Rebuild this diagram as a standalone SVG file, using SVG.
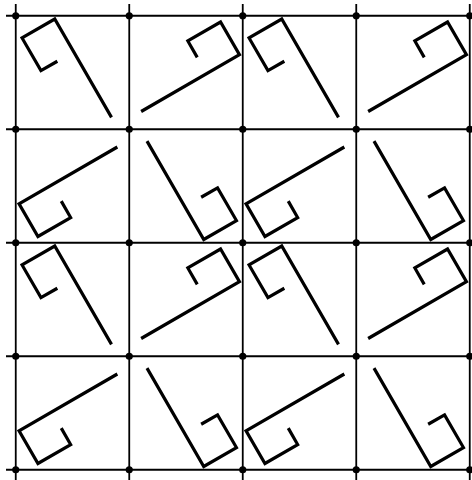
<svg xmlns="http://www.w3.org/2000/svg" xmlns:xlink="http://www.w3.org/1999/xlink" width="472" height="480" viewBox="0 0 472 480">
  <style>
    .grid { stroke: #000; stroke-width: 1.8; fill: none; }
    .dot { fill: #000; }
    .hook { stroke: #000; stroke-width: 3.2; fill: none; stroke-linejoin: miter; stroke-linecap: butt; }
  </style>
  <defs>
    <polyline id="hk" class="hook" points="-15.15,-11.25 -31.55,-1.85 -50.45,-34.55 -17.75,-53.45 39,44.85"/>
  </defs>
  <rect width="472" height="480" fill="#fff"/>
  <g id="grid-lines">
    <line class="grid" x1="6" y1="15.75" x2="472" y2="15.75"/>
    <line class="grid" x1="6" y1="129.25" x2="472" y2="129.25"/>
    <line class="grid" x1="6" y1="242.75" x2="472" y2="242.75"/>
    <line class="grid" x1="6" y1="356.25" x2="472" y2="356.25"/>
    <line class="grid" x1="6" y1="469.75" x2="472" y2="469.75"/>
    <line class="grid" x1="15.75" y1="4" x2="15.75" y2="480"/>
    <line class="grid" x1="129.25" y1="4" x2="129.25" y2="480"/>
    <line class="grid" x1="242.75" y1="4" x2="242.75" y2="480"/>
    <line class="grid" x1="356.25" y1="4" x2="356.25" y2="480"/>
    <line class="grid" x1="469.75" y1="4" x2="469.75" y2="480"/>
  </g>
  <g id="dots">
    <circle class="dot" cx="15.75" cy="15.75" r="3.6"/><circle class="dot" cx="129.25" cy="15.75" r="3.6"/><circle class="dot" cx="242.75" cy="15.75" r="3.6"/><circle class="dot" cx="356.25" cy="15.75" r="3.6"/><circle class="dot" cx="469.75" cy="15.75" r="3.6"/>
    <circle class="dot" cx="15.75" cy="129.25" r="3.6"/><circle class="dot" cx="129.25" cy="129.25" r="3.6"/><circle class="dot" cx="242.75" cy="129.25" r="3.6"/><circle class="dot" cx="356.25" cy="129.25" r="3.6"/><circle class="dot" cx="469.75" cy="129.25" r="3.6"/>
    <circle class="dot" cx="15.75" cy="242.75" r="3.6"/><circle class="dot" cx="129.25" cy="242.75" r="3.6"/><circle class="dot" cx="242.75" cy="242.75" r="3.6"/><circle class="dot" cx="356.25" cy="242.75" r="3.6"/><circle class="dot" cx="469.75" cy="242.75" r="3.6"/>
    <circle class="dot" cx="15.75" cy="356.25" r="3.6"/><circle class="dot" cx="129.25" cy="356.25" r="3.6"/><circle class="dot" cx="242.75" cy="356.25" r="3.6"/><circle class="dot" cx="356.25" cy="356.25" r="3.6"/><circle class="dot" cx="469.75" cy="356.25" r="3.6"/>
    <circle class="dot" cx="15.75" cy="469.75" r="3.6"/><circle class="dot" cx="129.25" cy="469.75" r="3.6"/><circle class="dot" cx="242.75" cy="469.75" r="3.6"/><circle class="dot" cx="356.25" cy="469.75" r="3.6"/><circle class="dot" cx="469.75" cy="469.75" r="3.6"/>
  </g>
  <g id="tile-r0c0"><use xlink:href="#hk" transform="translate(72.5,72.5)"/></g>
  <g id="tile-r0c1"><use xlink:href="#hk" transform="translate(186,72.5) rotate(90)"/></g>
  <g id="tile-r0c2"><use xlink:href="#hk" transform="translate(299.5,72.5)"/></g>
  <g id="tile-r0c3"><use xlink:href="#hk" transform="translate(413,72.5) rotate(90)"/></g>
  <g id="tile-r1c0"><use xlink:href="#hk" transform="translate(72.5,186) rotate(-90)"/></g>
  <g id="tile-r1c1"><use xlink:href="#hk" transform="translate(186,186) rotate(180)"/></g>
  <g id="tile-r1c2"><use xlink:href="#hk" transform="translate(299.5,186) rotate(-90)"/></g>
  <g id="tile-r1c3"><use xlink:href="#hk" transform="translate(413,186) rotate(180)"/></g>
  <g id="tile-r2c0"><use xlink:href="#hk" transform="translate(72.5,299.5)"/></g>
  <g id="tile-r2c1"><use xlink:href="#hk" transform="translate(186,299.5) rotate(90)"/></g>
  <g id="tile-r2c2"><use xlink:href="#hk" transform="translate(299.5,299.5)"/></g>
  <g id="tile-r2c3"><use xlink:href="#hk" transform="translate(413,299.5) rotate(90)"/></g>
  <g id="tile-r3c0"><use xlink:href="#hk" transform="translate(72.5,413) rotate(-90)"/></g>
  <g id="tile-r3c1"><use xlink:href="#hk" transform="translate(186,413) rotate(180)"/></g>
  <g id="tile-r3c2"><use xlink:href="#hk" transform="translate(299.5,413) rotate(-90)"/></g>
  <g id="tile-r3c3"><use xlink:href="#hk" transform="translate(413,413) rotate(180)"/></g>
</svg>
